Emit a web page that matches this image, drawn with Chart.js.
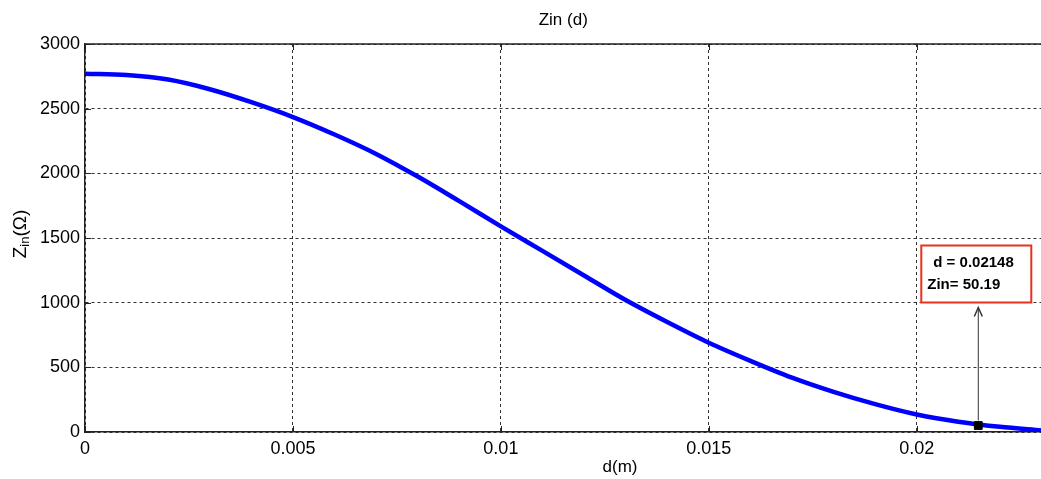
<!DOCTYPE html>
<html>
<head>
<meta charset="utf-8">
<script src="https://cdn.jsdelivr.net/npm/chart.js@4/dist/chart.umd.min.js"></script>
<style>
	html, body { margin: 0; padding: 0; background: #fff; overflow: hidden; }
	#wrap { width: 1048px; height: 479px; }
</style>
</head>
<body>
<div id="wrap"><canvas id="zinChart"></canvas></div>
<script>
// values
const dValues = [0, 0.001, 0.002, 0.003, 0.004, 0.005, 0.006, 0.007, 0.008, 0.009, 0.010, 0.011,
	0.012, 0.013, 0.014, 0.015, 0.016, 0.017, 0.018, 0.019, 0.020, 0.021, 0.022, 0.023];
const zinValues = [2770, 2760, 2725, 2650, 2550, 2435, 2300, 2150, 1975, 1785, 1590, 1400,
	1210, 1020, 850, 690, 550, 420, 310, 215, 135, 80, 40, 12];
const xTicks = [0, 0.005, 0.01, 0.015, 0.02];
const xTickLabels = ['0', '0.005', '0.01', '0.015', '0.02'];
const yTicks = [0, 500, 1000, 1500, 2000, 2500, 3000];
const markerPoint = { d: 0.02148, zin: 50.19 };
const markerLines = ['d = 0.02148', 'Zin= 50.19'];

const tickFont = { family: 'Arial, "Liberation Sans", sans-serif', size: 18 };

let curvePoints = dValues.map(function(d, i) { return { x: d, y: zinValues[i] }; });

// frame, inner ticks, axis labels and the data tip
const matlabDecor = {
	id: 'matlabDecor',
	afterDraw: function(chart) {
		let ctx = chart.ctx;
		let area = chart.chartArea;
		let xs = chart.scales.x, ys = chart.scales.y;

		ctx.save();
		ctx.strokeStyle = '#222';
		ctx.lineWidth = 1.5;
		ctx.beginPath();
		ctx.moveTo(area.left, area.top);
		ctx.lineTo(area.right, area.top);
		ctx.stroke();

		ctx.lineWidth = 1;
		ctx.beginPath();
		xTicks.forEach(function(v) {
			let px = Math.round(xs.getPixelForValue(v)) + 0.5;
			ctx.moveTo(px, area.bottom); ctx.lineTo(px, area.bottom - 6);
			ctx.moveTo(px, area.top); ctx.lineTo(px, area.top + 6);
		});
		yTicks.forEach(function(v) {
			let py = Math.round(ys.getPixelForValue(v)) + 0.5;
			ctx.moveTo(area.left, py); ctx.lineTo(area.left + 6, py);
		});
		ctx.stroke();

		// x label (sits right of centre in the original)
		ctx.fillStyle = '#000';
		ctx.font = '17px Arial, "Liberation Sans", sans-serif';
		ctx.textAlign = 'center';
		ctx.textBaseline = 'middle';
		ctx.fillText('d(m)', 620, 467);

		// y label with subscript
		ctx.save();
		ctx.translate(21, (area.top + area.bottom) / 2 - 4);
		ctx.rotate(-Math.PI / 2);
		ctx.textBaseline = 'middle';
		ctx.textAlign = 'left';
		let big = '19px Arial, "Liberation Sans", sans-serif';
		let small = '13px Arial, "Liberation Sans", sans-serif';
		ctx.font = big;
		let wZ = ctx.measureText('Z').width;
		let wP = ctx.measureText('(Ω)').width;
		ctx.font = small;
		let wIn = ctx.measureText('in').width;
		let x0 = -(wZ + wIn + wP) / 2;
		ctx.font = big;
		ctx.fillText('Z', x0, 0);
		ctx.font = small;
		ctx.fillText('in', x0 + wZ, 4);
		ctx.font = big;
		ctx.fillText('(Ω)', x0 + wZ + wIn, 0);
		ctx.restore();

		// data tip
		let mx = xs.getPixelForValue(markerPoint.d);
		let my = ys.getPixelForValue(markerPoint.zin);
		let tipY = my - 118;
		ctx.strokeStyle = '#333';
		ctx.lineWidth = 1;
		ctx.beginPath();
		ctx.moveTo(mx, my - 5);
		ctx.lineTo(mx, tipY);
		ctx.stroke();
		ctx.lineWidth = 1.5;
		ctx.beginPath();
		ctx.moveTo(mx - 4, tipY + 9);
		ctx.lineTo(mx, tipY);
		ctx.lineTo(mx + 4, tipY + 9);
		ctx.stroke();

		let bx = mx - 57, by = my - 180, bw = 110, bh = 57;
		ctx.fillStyle = '#fff';
		ctx.fillRect(bx, by, bw, bh);
		ctx.strokeStyle = '#e8321e';
		ctx.lineWidth = 2;
		ctx.strokeRect(bx, by, bw, bh);
		ctx.fillStyle = '#000';
		ctx.font = 'bold 15px Arial, "Liberation Sans", sans-serif';
		ctx.textAlign = 'left';
		ctx.fillText(markerLines[0], bx + 12, by + 17);
		ctx.fillText(markerLines[1], bx + 6, by + 39);
		ctx.restore();
	}
};

let config = {
	type: 'line',
	data: {
		datasets: [{
			label: 'Zin',
			data: curvePoints,
			order: 2,
			borderColor: '#0000ff',
			borderWidth: 4.5,
			pointRadius: 0,
			cubicInterpolationMode: 'monotone',
			fill: false
		}, {
			label: 'marker',
			data: [{ x: markerPoint.d, y: markerPoint.zin }],
			order: 1,
			showLine: false,
			pointStyle: 'rect',
			pointRadius: 5.5,
			pointBackgroundColor: '#000',
			pointBorderColor: '#000',
			backgroundColor: '#000',
			borderColor: '#000'
		}]
	},
	options: {
		responsive: true,
		maintainAspectRatio: false,
		animation: false,
		layout: { padding: { top: 0, left: 0, right: 2, bottom: 0 } },
		plugins: {
			legend: { display: false },
			tooltip: { enabled: false },
			title: {
				display: true,
				text: 'Zin (d)',
				fullSize: false,
				color: '#000',
				font: { family: 'Arial, "Liberation Sans", sans-serif', size: 17, weight: 'normal' },
				padding: { top: 10, bottom: 13.6 }
			}
		},
		scales: {
			x: {
				type: 'linear',
				min: 0,
				max: 0.023,
				afterBuildTicks: function(scale) {
					scale.ticks = xTicks.map(function(v) { return { value: v }; });
				},
				afterFit: function(scale) { scale.height = 47; },
				ticks: {
					color: '#000',
					font: tickFont,
					padding: 6,
					maxRotation: 0,
					callback: function(value, index) { return xTickLabels[index]; }
				},
				grid: { color: '#333', lineWidth: 1, drawTicks: false },
				border: { display: true, color: '#222', width: 1.5, dash: [3, 3] }
			},
			y: {
				type: 'linear',
				min: 0,
				max: 3000,
				afterBuildTicks: function(scale) {
					scale.ticks = yTicks.map(function(v) { return { value: v }; });
				},
				afterFit: function(scale) { scale.width = 85; },
				ticks: {
					color: '#000',
					font: tickFont,
					padding: 5,
					callback: function(value) { return String(value); }
				},
				grid: { color: '#333', lineWidth: 1, drawTicks: false },
				border: { display: true, color: '#222', width: 1.5, dash: [3, 3] }
			}
		}
	},
	plugins: [matlabDecor]
};

let zinChart = new Chart(document.getElementById('zinChart'), config);
</script>
</body>
</html>
